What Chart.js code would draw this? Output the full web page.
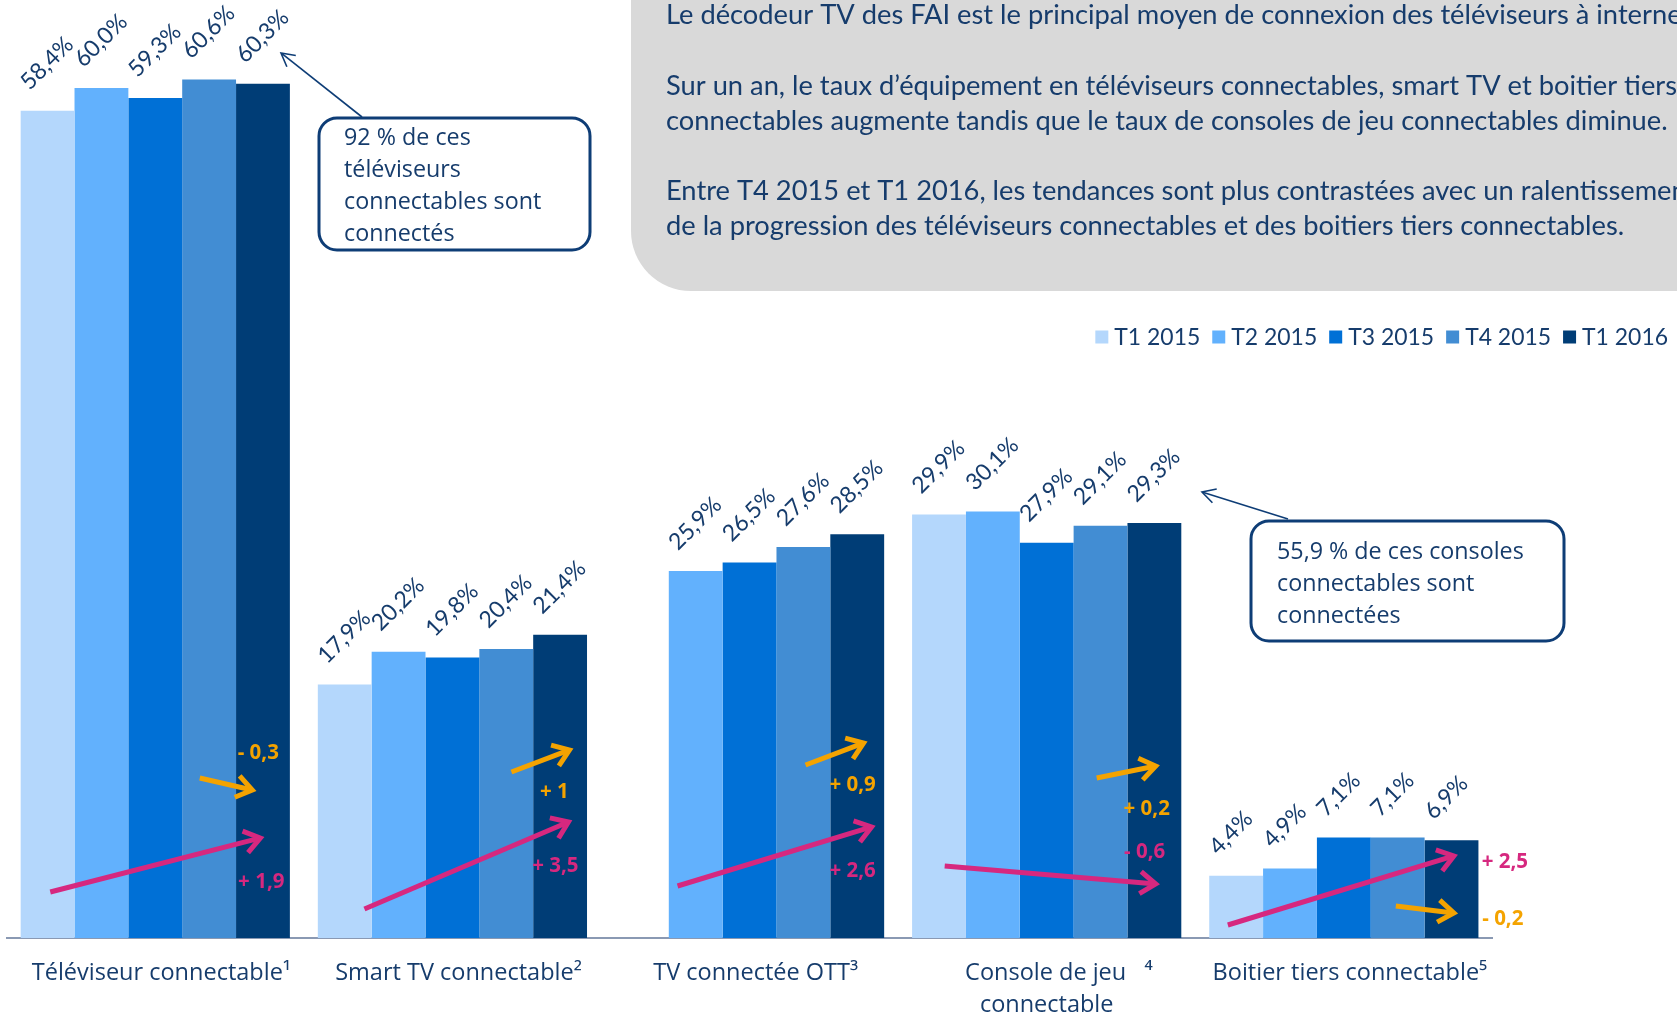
<!DOCTYPE html>
<html><head><meta charset="utf-8">
<script src="https://cdn.jsdelivr.net/npm/chart.js@4.4.1/dist/chart.umd.min.js"></script>
<style>html,body{margin:0;padding:0;background:#fff;overflow:hidden}#wrap{width:1677px;height:1018px;position:relative}</style>
</head><body><div id="wrap"><canvas id="c" width="1677" height="1018"></canvas></div>
<script>
// ---- Data ----
const categories = ["Téléviseur connectable", "Smart TV connectable", "TV connectée OTT", "Console de jeu connectable", "Boitier tiers connectable"];
const footnotes = ["¹", "²", "³", "⁴", "⁵"];
const seriesNames = ["T1 2015", "T2 2015", "T3 2015", "T4 2015", "T1 2016"];
const t1_2015 = [58.4, 17.9, null, 29.9, 4.4];
const t2_2015 = [60.0, 20.2, 25.9, 30.1, 4.9];
const t3_2015 = [59.3, 19.8, 26.5, 27.9, 7.1];
const t4_2015 = [60.6, 20.4, 27.6, 29.1, 7.1];
const t1_2016 = [60.3, 21.4, 28.5, 29.3, 6.9];
const quarterChange = ["- 0,3", "+ 1", "+ 0,9", "+ 0,2", "- 0,2"];
const yearChange = ["+ 1,9", "+ 3,5", "+ 2,6", "- 0,6", "+ 2,5"];
const summaryLines = [
  "Le décodeur TV des FAI est le principal moyen de connexion des téléviseurs à internet.",
  "",
  "Sur un an, le taux d’équipement en téléviseurs connectables, smart TV et boitier tiers",
  "connectables augmente tandis que le taux de consoles de jeu connectables diminue.",
  "",
  "Entre T4 2015 et T1 2016, les tendances sont plus contrastées avec un ralentissement",
  "de la progression des téléviseurs connectables et des boitiers tiers connectables."
];
const callout1Lines = ["92 % de ces", "téléviseurs", "connectables sont", "connectés"];
const callout2Lines = ["55,9 % de ces consoles", "connectables sont", "connectées"];

const seriesColors = ["#B4D7FC", "#62B1FD", "#0070D6", "#428DD3", "#003D76"];
const NAVY = "#163C6C", ORANGE = "#F4A300", PINK = "#D6287F";

const seriesData = [t1_2015, t2_2015, t3_2015, t4_2015, t1_2016];
const fmt = v => v.toFixed(1).replace('.', ',') + '%';

// annotation placement relative to category centre (dx) and absolute y
const qArrows = [
  {x1:44.5,y1:778,x2:97,y2:790, lx:103,ly:753},
  {x1:59,y1:772,x2:117,y2:750, lx:102,ly:792},
  {x1:56,y1:765,x2:114,y2:743, lx:103,ly:785},
  {x1:50,y1:778,x2:109,y2:766, lx:100,ly:809},
  {x1:52,y1:906,x2:110,y2:913, lx:159,ly:919}
];
const yArrows = [
  {x1:-105,y1:892,x2:105,y2:838, lx:106,ly:882},
  {x1:-88,y1:909,x2:116,y2:822, lx:103,ly:866},
  {x1:-72,y1:886,x2:122,y2:827, lx:103,ly:871},
  {x1:-102,y1:866,x2:109,y2:884, lx:98,ly:852},
  {x1:-116,y1:925,x2:110,y2:856, lx:161,ly:862}
];

function arrow(ctx, x1, y1, x2, y2, color, w, head, ang) {
  const a = Math.atan2(y2 - y1, x2 - x1);
  ctx.save();
  ctx.strokeStyle = color; ctx.lineWidth = w; ctx.lineCap = 'butt'; ctx.lineJoin = 'miter';
  ctx.beginPath(); ctx.moveTo(x1, y1); ctx.lineTo(x2 - Math.cos(a) * w * 0.5, y2 - Math.sin(a) * w * 0.5); ctx.stroke();
  ctx.beginPath();
  ctx.moveTo(x2 - head * Math.cos(a - ang), y2 - head * Math.sin(a - ang));
  ctx.lineTo(x2, y2);
  ctx.lineTo(x2 - head * Math.cos(a + ang), y2 - head * Math.sin(a + ang));
  ctx.stroke();
  ctx.restore();
}
function roundRect(ctx, x, y, w, h, r) {
  ctx.beginPath();
  ctx.moveTo(x + r, y); ctx.lineTo(x + w - r, y); ctx.arcTo(x + w, y, x + w, y + r, r);
  ctx.lineTo(x + w, y + h - r); ctx.arcTo(x + w, y + h, x + w - r, y + h, r);
  ctx.lineTo(x + r, y + h); ctx.arcTo(x, y + h, x, y + h - r, r);
  ctx.lineTo(x, y + r); ctx.arcTo(x, y, x + r, y, r); ctx.closePath();
}
function fitSize(ctx, text, target, family, weight) {
  ctx.font = (weight || '') + ' 100px ' + family;
  return 100 * target / ctx.measureText(text).width;
}

const backgroundPlugin = {
  id: 'bgBox',
  beforeDraw(chart) {
    const ctx = chart.ctx;
    ctx.save();
    ctx.fillStyle = '#D9D9D9';
    const L = 631, B = 291, R = 60;
    ctx.beginPath();
    ctx.moveTo(L, -20); ctx.lineTo(L, B - R); ctx.arcTo(L, B, L + R, B, R);
    ctx.lineTo(1700, B); ctx.lineTo(1700, -20); ctx.closePath(); ctx.fill();
    const fs = fitSize(ctx, summaryLines[3], 1002, 'Lato');
    ctx.font = fs.toFixed(2) + 'px Lato';
    ctx.fillStyle = NAVY; ctx.textAlign = 'left'; ctx.textBaseline = 'middle';
    const ys = [15, 50, 86, 121, 156, 191, 226];
    summaryLines.forEach((t, i) => { if (t) ctx.fillText(t, 666, ys[i]); });
    ctx.restore();
  }
};

const annotPlugin = {
  id: 'annot',
  afterDatasetsDraw(chart) {
    const ctx = chart.ctx;
    const xs = chart.scales.x;
    // value labels
    ctx.save();
    ctx.fillStyle = NAVY;
    ctx.font = '23px Lato';
    ctx.textAlign = 'left'; ctx.textBaseline = 'middle';
    chart.data.datasets.forEach((ds, di) => {
      chart.getDatasetMeta(di).data.forEach((bar, i) => {
        const v = ds.data[i];
        if (v === null || v === undefined) return;
        ctx.save();
        ctx.translate(bar.x - 23, bar.y - 25);
        ctx.rotate(-Math.PI / 4);
        ctx.fillText(fmt(v), 0, 0);
        ctx.restore();
      });
    });
    ctx.restore();

    // change arrows + labels
    ctx.save();
    ctx.font = 'bold 20.5px "Open Sans"';
    ctx.textAlign = 'center'; ctx.textBaseline = 'middle';
    categories.forEach((c, i) => {
      const cx = xs.getPixelForValue(i);
      const q = qArrows[i], y = yArrows[i];
      arrow(ctx, cx + q.x1, q.y1, cx + q.x2, q.y2, ORANGE, 5, 19, 0.62);
      arrow(ctx, cx + y.x1, y.y1, cx + y.x2, y.y2, PINK, 5, 19, 0.62);
      ctx.fillStyle = ORANGE; ctx.fillText(quarterChange[i], cx + q.lx, q.ly);
      ctx.fillStyle = PINK; ctx.fillText(yearChange[i], cx + y.lx, y.ly);
    });
    ctx.restore();
  },
  afterDraw(chart) {
    const ctx = chart.ctx;
    ctx.save();
    // callouts
    ctx.strokeStyle = '#0E3D76'; ctx.lineWidth = 3; ctx.fillStyle = '#fff';
    roundRect(ctx, 319, 118, 271, 132, 18); ctx.fill(); ctx.stroke();
    roundRect(ctx, 1251, 521, 313, 120, 18); ctx.fill(); ctx.stroke();
    arrow(ctx, 362, 117, 281, 53, '#0E3D76', 1.6, 15, 0.5);
    arrow(ctx, 1288, 519, 1202, 492, '#0E3D76', 1.6, 15, 0.5);
    ctx.fillStyle = NAVY; ctx.font = '23.3px "Open Sans"';
    ctx.textAlign = 'left'; ctx.textBaseline = 'middle';
    callout1Lines.forEach((t, i) => ctx.fillText(t, 344, 138 + i * 32));
    callout2Lines.forEach((t, i) => ctx.fillText(t, 1277, 552 + i * 32));

    // legend
    const lf = fitSize(ctx, seriesNames[0], 86, 'Lato');
    ctx.font = lf.toFixed(2) + 'px Lato';
    const box = 13, gap = 6, spacing = 12;
    const widths = seriesNames.map(n => ctx.measureText(n).width);
    const total = widths.reduce((a, w) => a + box + gap + w, 0) + spacing * (seriesNames.length - 1);
    let x = 1668 - total;
    const ly = 337;
    chart.data.datasets.forEach((ds, i) => {
      ctx.fillStyle = ds.backgroundColor;
      ctx.fillRect(x, ly - box / 2, box, box);
      ctx.fillStyle = NAVY;
      ctx.fillText(ds.label, x + box + gap, ly + 1);
      x += box + gap + widths[i] + spacing;
    });
    ctx.restore();
  }
};

const chart = new Chart(document.getElementById('c'), {
  type: 'bar',
  data: {
    labels: categories,
    datasets: seriesNames.map((n, i) => ({
      label: n,
      data: seriesData[i],
      backgroundColor: seriesColors[i],
      borderWidth: 0,
      barPercentage: 1,
      categoryPercentage: 0.906
    }))
  },
  options: {
    responsive: false,
    animation: false,
    devicePixelRatio: 1,
    layout: { padding: { top: 3, left: 5.6, right: 184.6, bottom: 0 } },
    plugins: { legend: { display: false }, tooltip: { enabled: false } },
    scales: {
      y: { display: false, min: 0, max: 66 },
      x: {
        grid: { display: false, drawTicks: false },
        border: { display: true, color: '#8A99B3', width: 2 },
        afterFit: s => { s.height = 80; },
        ticks: {
          autoSkip: false, maxRotation: 0, minRotation: 0, padding: 19,
          color: NAVY,
          font: { family: 'Open Sans', size: 23.5, lineHeight: '32px' },
          callback: function (v, i) {
            if (i === 3) return ["    Console de jeu   " + footnotes[i], "connectable"];
            return "  " + categories[i] + footnotes[i];
          }
        }
      }
    }
  },
  plugins: [backgroundPlugin, annotPlugin]
});
</script>
</body></html>
